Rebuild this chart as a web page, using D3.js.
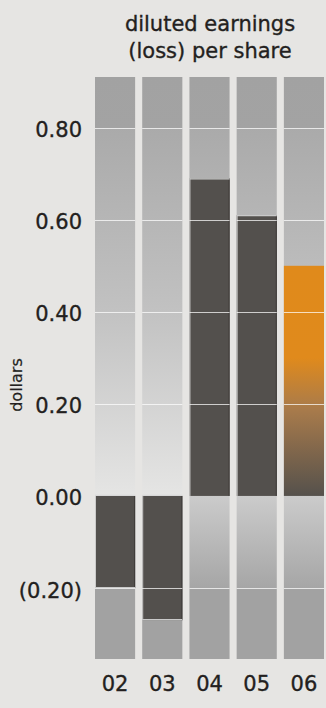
<!DOCTYPE html>
<html><head><meta charset="utf-8">
<script src="https://cdn.jsdelivr.net/npm/d3@7"></script>
<style>
html,body{margin:0;padding:0;background:#e6e5e3;}
svg{display:block;}
text{font-family:"DejaVu Sans",sans-serif;fill:#231f20;stroke:#231f20;stroke-width:0.35px;}
</style></head>
<body>
<script>
// ---- data ----
const categories = ["02", "03", "04", "05", "06"];
const eps = [-0.20, -0.27, 0.69, 0.61, 0.50];
const tickValues = [0.80, 0.60, 0.40, 0.20, 0.00, -0.20];
const tickLabels = ["0.80", "0.60", "0.40", "0.20", "0.00", "(0.20)"];
const gridValues = [0.80, 0.60, 0.40, 0.20, -0.20];
const titleLines = ["diluted earnings", "(loss) per share"];
const axisTitle = "dollars";
const highlightCategory = "06";

// ---- layout ----
const W = 326, H = 708;
const colTop = 77, colBottom = 659;
const svg = d3.select("body").append("svg").attr("width", W).attr("height", H);

const x = d3.scaleBand().domain(categories).range([95, 324]).paddingInner(0.15).paddingOuter(0);
const y = d3.scaleLinear().domain([-0.2, 0.8]).range([588, 127.7]);

const defs = svg.append("defs");
function grad(id, y1, y2, stops) {
  const g = defs.append("linearGradient").attr("id", id)
    .attr("gradientUnits", "userSpaceOnUse")
    .attr("x1", 0).attr("x2", 0).attr("y1", y1).attr("y2", y2);
  stops.forEach(s => g.append("stop").attr("offset", s[0]).attr("stop-color", s[1]));
}
const y0 = y(0);
const o8 = (y(0.8) - colTop) / (y0 - colTop);
grad("bgUp", colTop, y0, [[0, "#a2a2a2"], [o8, "#a3a3a3"], [o8, "#aaaaaa"], [0.55, "#c1c1c1"], [1, "#e5e5e4"]]);
const om2 = (y(-0.2) - y0) / (colBottom - y0);
grad("bgDown", y0, colBottom, [[0, "#cbcbcb"], [om2, "#a6a6a6"], [om2, "#a2a2a2"], [1, "#a2a2a2"]]);
const hiVal = eps[categories.indexOf(highlightCategory)];
grad("orange", y(hiVal), y0, [[0, "#e08a1b"], [0.4, "#e08a1c"], [0.62, "#a97b4b"], [1, "#55514c"]]);

// columns background
const cols = svg.append("g").selectAll("g").data(categories).join("g");
cols.append("rect").attr("x", d => x(d)).attr("width", x.bandwidth())
  .attr("y", colTop).attr("height", y0 - colTop).attr("fill", "url(#bgUp)");
cols.append("rect").attr("x", d => x(d)).attr("width", x.bandwidth())
  .attr("y", y0).attr("height", colBottom - y0).attr("fill", "url(#bgDown)");

// bars
const bars = svg.append("g").selectAll("g").data(categories.map((c, i) => ({c, v: eps[i]}))).join("g");
bars.append("rect")
  .attr("x", d => x(d.c)).attr("width", x.bandwidth())
  .attr("y", d => Math.min(y(d.v), y0))
  .attr("height", d => Math.abs(y(d.v) - y0))
  .attr("fill", d => d.c === highlightCategory ? "url(#orange)" : "#53504d");
const dark = bars.filter(d => d.c !== highlightCategory);
dark.append("line")
  .attr("x1", d => x(d.c) + 0.5).attr("x2", d => x(d.c) + 0.5)
  .attr("y1", d => Math.min(y(d.v), y0)).attr("y2", d => Math.max(y(d.v), y0))
  .attr("stroke", "#e8e8e8").attr("stroke-opacity", 0.8).attr("stroke-width", 1);
dark.append("line")
  .attr("x1", d => x(d.c) + x.bandwidth() - 0.5).attr("x2", d => x(d.c) + x.bandwidth() - 0.5)
  .attr("y1", d => Math.min(y(d.v), y0)).attr("y2", d => Math.max(y(d.v), y0))
  .attr("stroke", "#3e3b39").attr("stroke-width", 1);
dark.append("line")
  .attr("x1", d => x(d.c)).attr("x2", d => x(d.c) + x.bandwidth())
  .attr("y1", d => y(d.v) + (d.v > 0 ? 0.5 : -0.5)).attr("y2", d => y(d.v) + (d.v > 0 ? 0.5 : -0.5))
  .attr("stroke", "#c9c9c9").attr("stroke-width", 1.2);
bars.filter(d => d.v < 0).append("line")
  .attr("x1", d => x(d.c)).attr("x2", d => x(d.c) + x.bandwidth())
  .attr("y1", y0 - 0.5).attr("y2", y0 - 0.5)
  .attr("stroke", "#d8d8d8").attr("stroke-width", 1.2);

// gridlines
const grid = svg.append("g");
categories.forEach(c => {
  grid.selectAll(null).data(gridValues).join("line")
    .attr("x1", x(c)).attr("x2", x(c) + x.bandwidth())
    .attr("y1", d => Math.round(y(d)) + 0.5).attr("y2", d => Math.round(y(d)) + 0.5)
    .attr("stroke", "#ffffff").attr("stroke-opacity", 0.72).attr("stroke-width", 1);
});

// y-axis labels
const yAxis = d3.axisLeft(y).tickValues(tickValues).tickFormat((d, i) => tickLabels[i]).tickSize(0).tickPadding(0);
const ya = svg.append("g").attr("transform", "translate(82,0)").call(yAxis);
ya.select(".domain").remove();
ya.selectAll("text").attr("font-size", 21).attr("font-family", "DejaVu Sans").attr("fill", "#231f20").attr("dy", "0.43em");

// x-axis labels
const xAxis = d3.axisBottom(x).tickSize(0).tickPadding(0);
const xa = svg.append("g").attr("transform", "translate(0,676)").call(xAxis);
xa.select(".domain").remove();
xa.selectAll("text").attr("font-size", 21).attr("font-family", "DejaVu Sans").attr("fill", "#231f20").attr("dy", "0.72em");

// axis title
svg.append("text").attr("transform", "translate(22,385) rotate(-90)")
  .attr("text-anchor", "middle").attr("font-size", 16).style("stroke-width", "0.2px").text(axisTitle);

// chart title
svg.append("g").selectAll("text").data(titleLines).join("text")
  .attr("x", 210).attr("y", (d, i) => 31 + i * 26.5)
  .attr("text-anchor", "middle").attr("font-size", 21).text(d => d);
</script>
</body></html>
